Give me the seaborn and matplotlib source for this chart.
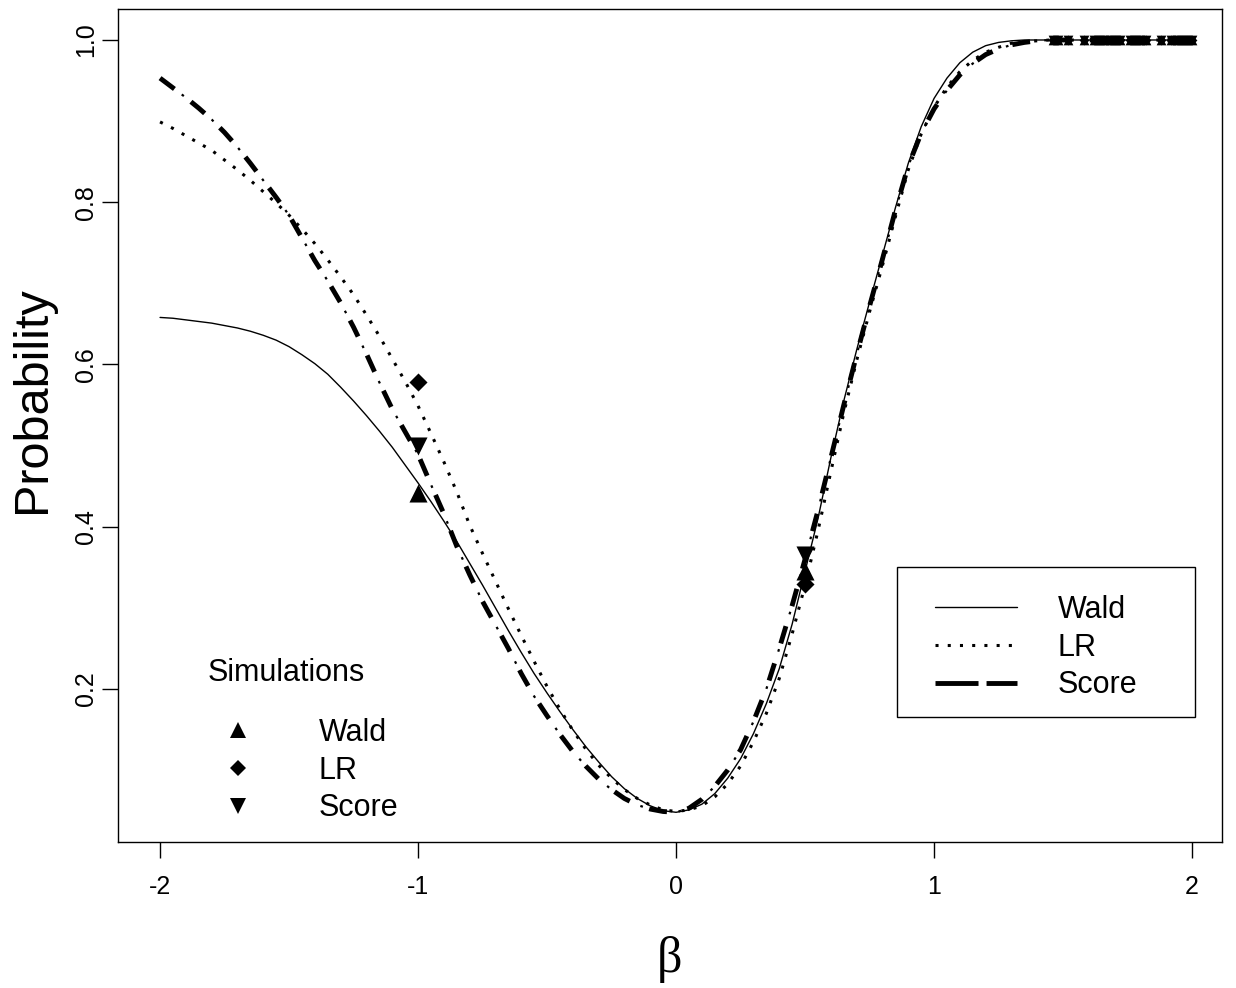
import matplotlib
matplotlib.use("Agg")
import matplotlib.pyplot as plt
import seaborn as sns
from matplotlib.lines import Line2D
from matplotlib.patches import Rectangle

# ---------- data ----------
beta_grid = [-2.00, -1.95, -1.90, -1.85, -1.80, -1.75, -1.70, -1.65, -1.60, -1.55,
             -1.50, -1.45, -1.40, -1.35, -1.30, -1.25, -1.20, -1.15, -1.10, -1.05,
             -1.00, -0.95, -0.90, -0.85, -0.80, -0.75, -0.70, -0.65, -0.60, -0.55,
             -0.50, -0.45, -0.40, -0.35, -0.30, -0.25, -0.20, -0.15, -0.10, -0.05,
             0.00, 0.05, 0.10, 0.15, 0.20, 0.25, 0.30, 0.35, 0.40, 0.45,
             0.50, 0.55, 0.60, 0.65, 0.70, 0.75, 0.80, 0.85, 0.90, 0.95,
             1.00, 1.05, 1.10, 1.15, 1.20, 1.25, 1.30, 1.35, 1.40, 1.45,
             1.50, 1.55, 1.60, 1.65, 1.70, 1.75, 1.80, 1.85, 1.90, 1.95, 2.00]

wald_power = [0.658, 0.657, 0.655, 0.653, 0.651, 0.648, 0.645, 0.641, 0.636, 0.630,
              0.622, 0.612, 0.601, 0.588, 0.572, 0.555, 0.537, 0.518, 0.498, 0.476,
              0.454, 0.431, 0.407, 0.382, 0.355, 0.328, 0.300, 0.272, 0.245, 0.219,
              0.195, 0.172, 0.150, 0.129, 0.110, 0.092, 0.077, 0.065, 0.056, 0.050,
              0.048, 0.051, 0.058, 0.071, 0.090, 0.114, 0.145, 0.182, 0.225, 0.280,
              0.345, 0.410, 0.485, 0.555, 0.618, 0.677, 0.735, 0.793, 0.848, 0.893,
              0.928, 0.953, 0.972, 0.985, 0.993, 0.997, 0.999, 1.000, 1.000, 1.000,
              1.000, 1.000, 1.000, 1.000, 1.000, 1.000, 1.000, 1.000, 1.000, 1.000, 1.000]

lr_power = [0.899, 0.891, 0.882, 0.873, 0.864, 0.852, 0.840, 0.827, 0.813, 0.799,
            0.784, 0.767, 0.749, 0.729, 0.708, 0.686, 0.661, 0.635, 0.607, 0.579,
            0.549, 0.515, 0.480, 0.443, 0.402, 0.367, 0.333, 0.299, 0.266, 0.234,
            0.203, 0.175, 0.149, 0.126, 0.106, 0.090, 0.076, 0.065, 0.057, 0.051,
            0.049, 0.051, 0.056, 0.067, 0.083, 0.105, 0.135, 0.170, 0.213, 0.268,
            0.328, 0.395, 0.468, 0.540, 0.605, 0.665, 0.722, 0.782, 0.840, 0.884,
            0.917, 0.942, 0.961, 0.975, 0.985, 0.991, 0.996, 0.998, 0.999, 1.000,
            1.000, 1.000, 1.000, 1.000, 1.000, 1.000, 1.000, 1.000, 1.000, 1.000, 1.000]

score_power = [0.953, 0.941, 0.929, 0.916, 0.902, 0.886, 0.868, 0.848, 0.827, 0.806,
               0.784, 0.756, 0.728, 0.703, 0.676, 0.646, 0.613, 0.578, 0.545, 0.517,
               0.489, 0.452, 0.416, 0.376, 0.341, 0.308, 0.279, 0.250, 0.219, 0.191,
               0.167, 0.144, 0.123, 0.105, 0.089, 0.076, 0.065, 0.057, 0.052, 0.049,
               0.048, 0.053, 0.064, 0.080, 0.100, 0.125, 0.160, 0.200, 0.250, 0.303,
               0.360, 0.420, 0.485, 0.550, 0.612, 0.672, 0.730, 0.790, 0.845, 0.885,
               0.915, 0.938, 0.957, 0.971, 0.982, 0.989, 0.994, 0.997, 0.999, 1.000,
               1.000, 1.000, 1.000, 1.000, 1.000, 1.000, 1.000, 1.000, 1.000, 1.000, 1.000]

# simulated rejection rates
sim_beta = [-1.0, 0.5]
sim_wald = [0.442, 0.346]
sim_lr = [0.578, 0.330]
sim_score = [0.500, 0.365]

top_beta = [1.46, 1.48, 1.52, 1.58, 1.62, 1.64, 1.66, 1.68, 1.70, 1.72,
            1.76, 1.78, 1.80, 1.82, 1.88, 1.92, 1.94, 1.96, 1.98, 2.00]
top_power = [1.0] * len(top_beta)

curve_labels = ["Wald", "LR", "Score"]

# ---------- style ----------
sns.set_theme(style="ticks")
plt.rcParams['font.family'] = ['Liberation Sans', 'DejaVu Sans']
plt.rcParams['axes.unicode_minus'] = False
plt.rcParams['text.color'] = 'black'
plt.rcParams['axes.labelcolor'] = 'black'
plt.rcParams['xtick.color'] = 'black'
plt.rcParams['ytick.color'] = 'black'

fig = plt.figure(figsize=(12.36, 9.88), dpi=100)
ax = fig.add_axes([118 / 1236, 146 / 988, 1104 / 1236, 833 / 988])

# theoretical power curves
sns.lineplot(x=beta_grid, y=wald_power, ax=ax, color="black", lw=1.0)
sns.lineplot(x=beta_grid, y=lr_power, ax=ax, color="black", lw=2.2,
             linestyle=(0, (1, 3)))
# score: thick dashes with thin dots in the gaps
sns.lineplot(x=beta_grid, y=score_power, ax=ax, color="black", lw=3.5,
             linestyle=(0, (3.7, 4.3)))
sns.lineplot(x=beta_grid, y=score_power, ax=ax, color="black", lw=1.6,
             linestyle=(5.34, (1.2, 16.35)))

# simulation points
sns.scatterplot(x=sim_beta, y=sim_wald, ax=ax, marker="^", s=13 ** 2,
                color="black", linewidth=0, zorder=5)
sns.scatterplot(x=sim_beta, y=sim_lr, ax=ax, marker="D", s=9.2 ** 2,
                color="black", linewidth=0, zorder=5)
sns.scatterplot(x=sim_beta, y=sim_score, ax=ax, marker="v", s=13 ** 2,
                color="black", linewidth=0, zorder=5)

for mk, sz in [("^", 7), ("D", 5), ("v", 7)]:
    sns.scatterplot(x=top_beta, y=top_power, ax=ax, marker=mk, s=sz ** 2,
                    color="black", linewidth=0, zorder=5)

# ---------- axes ----------
ax.set_xlim(-2.163, 2.116)
ax.set_ylim(0.0114, 1.0382)
ax.set_xticks([-2, -1, 0, 1, 2])
ax.set_xticklabels(["-2", "-1", "0", "1", "2"])
ax.set_yticks([0.2, 0.4, 0.6, 0.8, 1.0])
ax.set_yticklabels(["0.2", "0.4", "0.6", "0.8", "1.0"])
ax.tick_params(axis="both", direction="out", length=11.5, width=1.0,
               labelsize=18, color="black", labelcolor="black")
ax.tick_params(axis="x", pad=12)
ax.tick_params(axis="y", pad=3)
for lab in ax.get_yticklabels():
    lab.set_rotation(90)
    lab.set_va("center")
for sp in ax.spines.values():
    sp.set_visible(True)
    sp.set_color("black")
    sp.set_linewidth(1.0)

ax.set_xlabel("β", fontsize=36, family=["Liberation Serif", "DejaVu Serif"])
ax.xaxis.set_label_coords(0.5, -0.113)
ax.set_ylabel("Probability", fontsize=35)
ax.yaxis.set_label_coords(-0.057, 0.531)

# ---------- legends ----------
line_handles = [
    Line2D([], [], color="black", lw=1.0),
    Line2D([], [], color="black", lw=2.2, linestyle=(0, (1, 3))),
    Line2D([], [], color="black", lw=3.5, linestyle=(0, (8.85, 1.65))),
]
leg1 = ax.legend(line_handles, curve_labels, loc="upper left",
                 bbox_to_anchor=(0.740, 0.2964), frameon=False, fontsize=22,
                 handlelength=2.68, handletextpad=1.34, labelspacing=0.25,
                 borderpad=0, borderaxespad=0)
ax.add_artist(leg1)
ax.add_patch(Rectangle((0.7056, 0.150), 0.2699, 0.180, transform=ax.transAxes,
                       fill=False, lw=1.0, ec="black", clip_on=False))

sim_handles = [
    Line2D([], [], ls="none", marker="^", ms=11, color="black", mew=0),
    Line2D([], [], ls="none", marker="D", ms=8, color="black", mew=0),
    Line2D([], [], ls="none", marker="v", ms=11, color="black", mew=0),
]
ax.legend(sim_handles, curve_labels, loc="upper left",
          bbox_to_anchor=(0.0815, 0.1488), frameon=False, fontsize=22,
          handlelength=1.96, handletextpad=1.67, labelspacing=0.25,
          borderpad=0, borderaxespad=0)
ax.text(0.0815, 0.1933, "Simulations", transform=ax.transAxes,
        fontsize=22, va="baseline", ha="left")

fig.savefig("out.png", dpi=100)
